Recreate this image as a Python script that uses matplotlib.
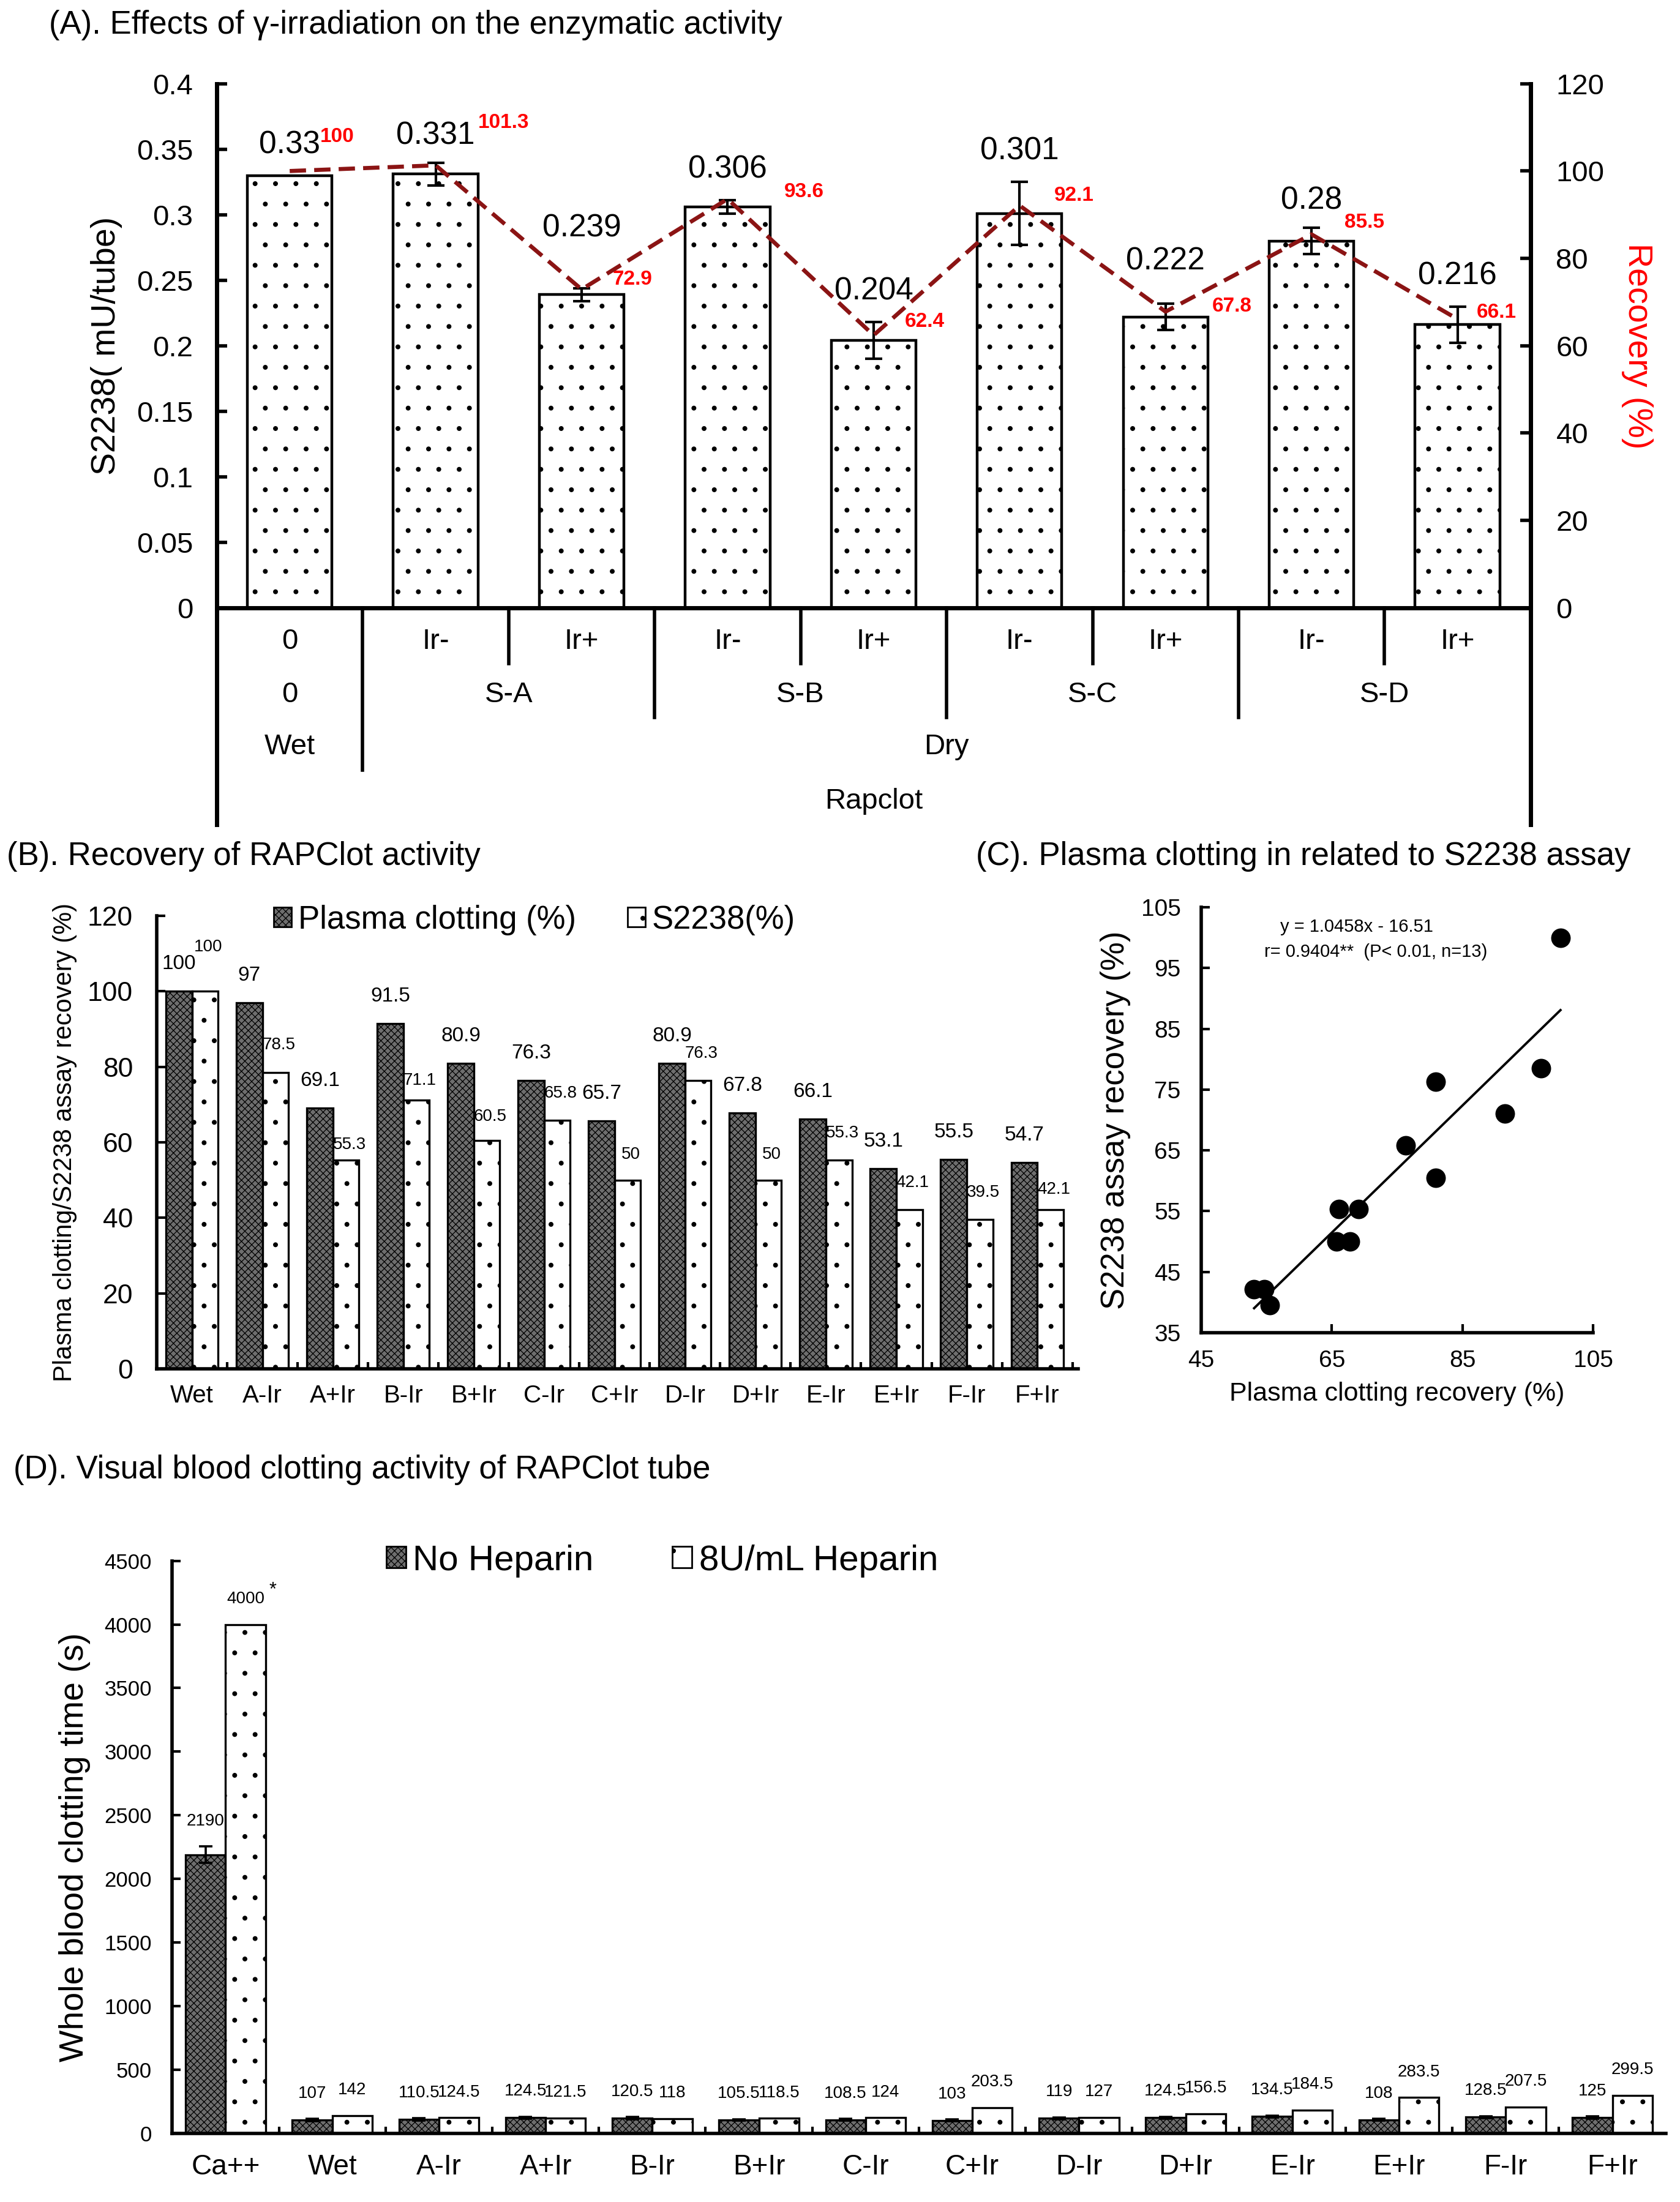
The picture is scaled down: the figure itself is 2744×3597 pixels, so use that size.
import numpy as np
import matplotlib.pyplot as plt
from matplotlib.patches import Patch

plt.rcParams['font.family'] = ['Liberation Sans', 'DejaVu Sans']
plt.rcParams['hatch.linewidth'] = 0.45

# ---- (A) S2238 activity after irradiation
a_ticklabels = ['0', 'Ir-', 'Ir+', 'Ir-', 'Ir+', 'Ir-', 'Ir+', 'Ir-', 'Ir+']
a_groups = ['0', 'S-A', 'S-B', 'S-C', 'S-D']
a_group_sizes = [1, 2, 2, 2, 2]
a_states = ['Wet', 'Dry']
a_state_sizes = [1, 8]
a_s2238 = [0.33, 0.331, 0.239, 0.306, 0.204, 0.301, 0.222, 0.28, 0.216]
a_err = [0.0, 0.0085, 0.005, 0.005, 0.014, 0.024, 0.010, 0.010, 0.014]
a_recovery = [100, 101.3, 72.9, 93.6, 62.4, 92.1, 67.8, 85.5, 66.1]

# ---- (B)/(C) plasma clotting vs S2238 recovery
b_labels = ['Wet', 'A-Ir', 'A+Ir', 'B-Ir', 'B+Ir', 'C-Ir', 'C+Ir',
            'D-Ir', 'D+Ir', 'E-Ir', 'E+Ir', 'F-Ir', 'F+Ir']
b_plasma = [100, 97, 69.1, 91.5, 80.9, 76.3, 65.7, 80.9, 67.8, 66.1, 53.1, 55.5, 54.7]
b_s2238 = [100, 78.5, 55.3, 71.1, 60.5, 65.8, 50, 76.3, 50, 55.3, 42.1, 39.5, 42.1]
c_slope = 1.0458
c_intercept = -16.51
c_r = 0.9404

# ---- (D) whole blood clotting time
d_labels = ['Ca++', 'Wet', 'A-Ir', 'A+Ir', 'B-Ir', 'B+Ir', 'C-Ir', 'C+Ir',
            'D-Ir', 'D+Ir', 'E-Ir', 'E+Ir', 'F-Ir', 'F+Ir']
d_noheparin = [2190, 107, 110.5, 124.5, 120.5, 105.5, 108.5, 103, 119, 124.5, 134.5, 108, 128.5, 125]
d_heparin = [4000, 142, 124.5, 121.5, 118, 118.5, 124, 203.5, 127, 156.5, 184.5, 283.5, 207.5, 299.5]
d_err = [65, 8, 8, 8, 8, 6, 6, 6, 8, 8, 8, 6, 8, 8]
d_marks = ['*', '', '', '', '', '', '', '', '', '', '', '', '', '']

dense = 'xxxxxx'
dark = '#6e6e6e'
fig = plt.figure(figsize=(13.72, 17.985), dpi=200)

# ================= panel A
ax = fig.add_axes([0.129, 0.724, 0.782, 0.238])
x = np.arange(len(a_s2238))
ax.bar(x, a_s2238, width=0.58, color='white', edgecolor='black', linewidth=1.6, hatch='.', zorder=2)
ax.errorbar(x[1:], a_s2238[1:], yerr=a_err[1:], fmt='none', ecolor='black',
            elinewidth=1.5, capsize=5, capthick=1.5, zorder=3)
ax.set_xlim(-0.5, len(x) - 0.5)
ax.set_ylim(0, 0.4)
ax.set_yticks(np.arange(0, 0.401, 0.05))
ax.yaxis.set_major_formatter(plt.FuncFormatter(lambda v, p: f'{v:g}'))
ax.set_xticks(x)
ax.set_xticklabels([])
ax.tick_params(axis='y', direction='in', length=6, width=2, labelsize=17, pad=14)
ax.tick_params(axis='x', direction='in', length=5, width=1.5)
ax.spines['top'].set_visible(False)
for s in ['left', 'right', 'bottom']:
    ax.spines[s].set_linewidth(2.5)
ax.set_ylabel('S2238( mU/tube)', fontsize=20, labelpad=8)

lbl_dy = [18, 16, 35, 18, 18, 18, 25, 16, 18]
for i, v in enumerate(a_s2238):
    ax.annotate(f'{v:g}', (i, v + a_err[i]), xytext=(0, lbl_dy[i]), textcoords='offset points',
                ha='center', va='center', fontsize=18.5)

ax2 = ax.twinx()
ax2.set_ylim(0, 120)
ax2.set_yticks(np.arange(0, 121, 20))
ax2.tick_params(axis='y', direction='in', length=6, width=2, labelsize=17, pad=15)
ax2.spines['top'].set_visible(False)
ax2.spines['right'].set_linewidth(2.5)
ax2.plot(x, a_recovery, color='#8B1414', lw=2.4, dashes=(4, 2), zorder=4)
ax2.set_ylabel('Recovery (%)', fontsize=20, color='red', rotation=270, va='bottom', labelpad=10)
red_off = [(28, 20), (40, 25), (30, 6), (45, 4), (30, 8), (32, 6), (39, 3), (31, 7), (23, 4)]
for i, r in enumerate(a_recovery):
    ax2.annotate(f'{r:g}', (i, r), xytext=red_off[i], textcoords='offset points',
                 ha='center', va='center', fontsize=12, color='red', fontweight='bold')

# category table under panel A
tr = ax.get_xaxis_transform()
rows = [-0.064, -0.166, -0.265, -0.369]
for i, t in enumerate(a_ticklabels):
    ax.text(i, rows[0], t, transform=tr, ha='center', va='center', fontsize=17)
edges = np.concatenate([[-0.5], np.cumsum(a_group_sizes) - 0.5])
for g, lo, hi, n in zip(a_groups, edges[:-1], edges[1:], a_group_sizes):
    ax.text((lo + hi) / 2, rows[1], g, transform=tr, ha='center', va='center', fontsize=17)
    for k in range(1, n):
        ax.plot([lo + k, lo + k], [0, -0.107], transform=tr, color='black', lw=2, clip_on=False)
st_edges = np.concatenate([[-0.5], np.cumsum(a_state_sizes) - 0.5])
for s, lo, hi in zip(a_states, st_edges[:-1], st_edges[1:]):
    ax.text((lo + hi) / 2, rows[2], s, transform=tr, ha='center', va='center', fontsize=17)
for b in edges[1:-1]:
    depth = -0.31 if b in st_edges else -0.209
    ax.plot([b, b], [0, depth], transform=tr, color='black', lw=2, clip_on=False)
for b in [edges[0], edges[-1]]:
    ax.plot([b, b], [0, -0.414], transform=tr, color='black', lw=2.5, clip_on=False)
ax.text((edges[0] + edges[-1]) / 2, rows[3], 'Rapclot', transform=tr, ha='center', va='center', fontsize=17)

fig.text(0.029, 0.9886, '(A). Effects of γ-irradiation on the enzymatic activity', fontsize=19, va='center')

# ================= panel B
axB = fig.add_axes([0.0933, 0.3783, 0.5484, 0.2059])
xb = np.arange(len(b_labels))
w = 0.37
axB.bar(xb - w / 2, b_plasma, width=w, color=dark, edgecolor='black', linewidth=1.2, hatch=dense, zorder=2)
axB.bar(xb + w / 2, b_s2238, width=w, color='white', edgecolor='black', linewidth=1.2, hatch='.', zorder=2)
s_dy = [26, 16, 9, 11.5, 14, 16, 15, 16, 15, 16, 16, 16, 12]
for i in range(len(xb)):
    axB.annotate(f'{b_plasma[i]:g}', (xb[i] - w / 2, b_plasma[i]), xytext=(0, 16), textcoords='offset points',
                 ha='center', va='center', fontsize=12)
    axB.annotate(f'{b_s2238[i]:g}', (xb[i] + w / 2, b_s2238[i]), xytext=(2, s_dy[i]), textcoords='offset points',
                 ha='center', va='center', fontsize=10)
axB.set_xlim(-0.5, len(xb) - 0.42)
axB.set_ylim(0, 120)
axB.set_yticks(np.arange(0, 121, 20))
axB.set_xticks(xb)
axB.set_xticklabels(b_labels)
axB.set_xticks(np.arange(0.5, len(xb)), minor=True)
axB.tick_params(axis='x', which='major', length=0, labelsize=14.5, pad=9)
axB.tick_params(axis='x', which='minor', direction='in', length=4, width=1.5)
axB.tick_params(axis='y', direction='in', length=5, width=1.5, labelsize=16, pad=14)
for s in ['top', 'right']:
    axB.spines[s].set_visible(False)
for s in ['left', 'bottom']:
    axB.spines[s].set_linewidth(2)
axB.set_ylabel('Plasma clotting/S2238 assay recovery (%)', fontsize=15, labelpad=6)
handles = [Patch(facecolor=dark, edgecolor='black', hatch=dense, lw=1),
           Patch(facecolor='white', edgecolor='black', hatch='.', lw=1)]
axB.legend(handles, ['Plasma clotting (%)', 'S2238(%)'], ncol=2, loc='center', bbox_to_anchor=(0.41, 0.99),
           frameon=False, fontsize=19, handlelength=0.55, handleheight=0.55, handletextpad=0.2,
           columnspacing=1.6)
fig.text(0.004, 0.611, '(B). Recovery of RAPClot activity', fontsize=19, va='center')

# ================= panel C
axC = fig.add_axes([0.715, 0.3948, 0.2333, 0.1932])
axC.scatter(b_plasma, b_s2238, s=110, color='black', zorder=3)
xs = np.array([min(b_plasma), max(b_plasma)])
axC.plot(xs, c_slope * xs + c_intercept, color='black', lw=1.4)
axC.set_xlim(45, 105)
axC.set_ylim(35, 105)
axC.set_xticks([45, 65, 85, 105])
axC.set_yticks(np.arange(35, 106, 10))
axC.tick_params(direction='in', length=5, width=1.5, labelsize=14)
axC.tick_params(axis='y', pad=12)
axC.tick_params(axis='x', pad=10)
for s in ['top', 'right']:
    axC.spines[s].set_visible(False)
for s in ['left', 'bottom']:
    axC.spines[s].set_linewidth(2)
axC.set_xlabel('Plasma clotting recovery (%)', fontsize=15.5, labelpad=6)
axC.set_ylabel('S2238 assay recovery (%)', fontsize=19, labelpad=6)
axC.text(0.396, 0.954, f'y = {c_slope}x - {abs(c_intercept)}', transform=axC.transAxes,
         ha='center', va='center', fontsize=10.5)
axC.text(0.446, 0.895, f'r= {c_r}**  (P< 0.01, n={len(b_plasma)})', transform=axC.transAxes,
         ha='center', va='center', fontsize=10.5)
fig.text(0.581, 0.611, '(C). Plasma clotting in related to S2238 assay', fontsize=19, va='center')

# ================= panel D
axD = fig.add_axes([0.1025, 0.0311, 0.889, 0.2601])
xd = np.arange(len(d_labels))
w = 0.375
axD.bar(xd - w / 2, d_noheparin, width=w, color=dark, edgecolor='black', linewidth=1.2, hatch=dense, zorder=2)
axD.bar(xd + w / 2, d_heparin, width=w, color='white', edgecolor='black', linewidth=1.2, hatch='.', zorder=2)
axD.errorbar(xd - w / 2, d_noheparin, yerr=d_err, fmt='none', ecolor='black', elinewidth=1.3,
             capsize=4, capthick=1.3, zorder=3)
for i in range(len(xd)):
    axD.annotate(f'{d_noheparin[i]:g}', (xd[i] - w / 2, d_noheparin[i] + d_err[i]), xytext=(0, 15),
                 textcoords='offset points', ha='center', va='center', fontsize=10)
    axD.annotate(f'{d_heparin[i]:g}', (xd[i] + w / 2, d_heparin[i]), xytext=(0, 15),
                 textcoords='offset points', ha='center', va='center', fontsize=10)
    if d_marks[i]:
        axD.annotate(d_marks[i], (xd[i] + w / 2, d_heparin[i]), xytext=(14, 20),
                     textcoords='offset points', ha='left', va='center', fontsize=11)
axD.set_xlim(-0.5, len(xd) - 0.5)
axD.set_ylim(0, 4500)
axD.set_yticks(np.arange(0, 4501, 500))
axD.set_xticks(xd)
axD.set_xticklabels(d_labels)
axD.set_xticks(np.arange(0.5, len(xd) - 0.5), minor=True)
axD.tick_params(axis='x', which='major', length=0, labelsize=16.5, pad=12)
axD.tick_params(axis='x', which='minor', direction='in', length=4, width=1.5)
axD.tick_params(axis='y', direction='in', length=5, width=1.5, labelsize=12.5, pad=12)
for s in ['top', 'right']:
    axD.spines[s].set_visible(False)
for s in ['left', 'bottom']:
    axD.spines[s].set_linewidth(2)
axD.set_ylabel('Whole blood clotting time (s)', fontsize=20, labelpad=8)
handles = [Patch(facecolor=dark, edgecolor='black', hatch=dense, lw=1),
           Patch(facecolor='white', edgecolor='black', hatch='.', lw=1)]
axD.legend(handles, ['No Heparin', '8U/mL Heparin'], ncol=2, loc='center', bbox_to_anchor=(0.328, 1.0),
           frameon=False, fontsize=21, handlelength=0.55, handleheight=0.55, handletextpad=0.2,
           columnspacing=2.2)
fig.text(0.008, 0.3325, '(D). Visual blood clotting activity of RAPClot tube', fontsize=19, va='center')

fig.savefig('out.png', dpi=200)
